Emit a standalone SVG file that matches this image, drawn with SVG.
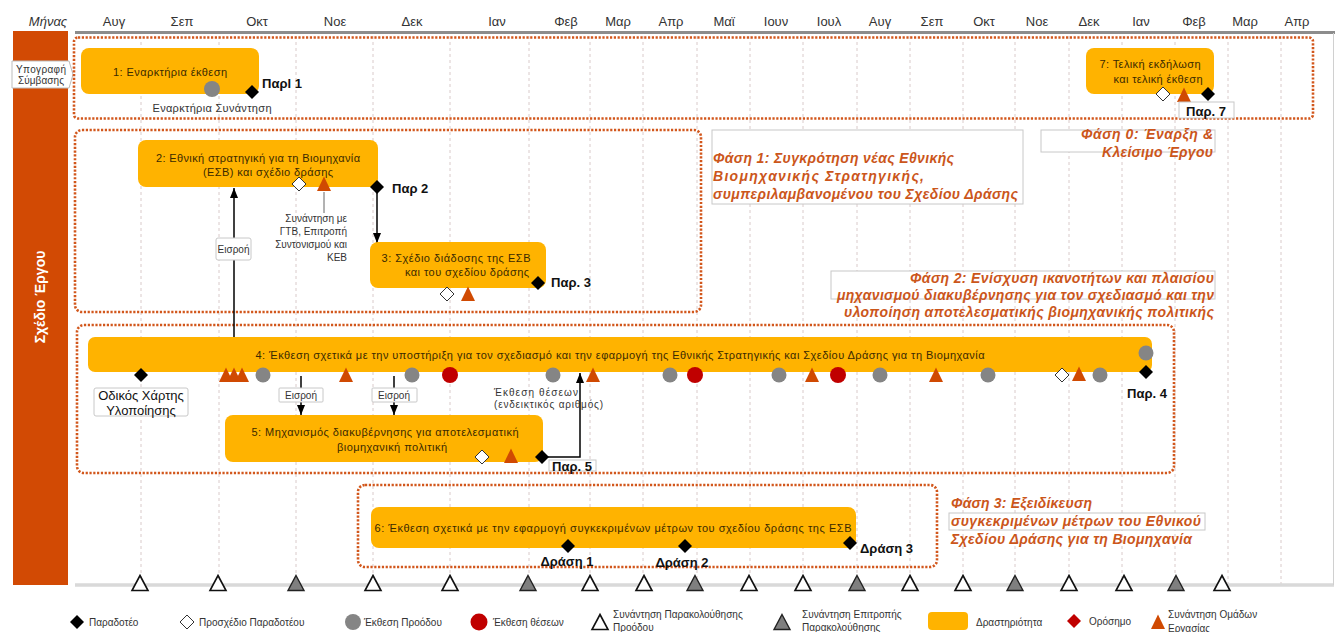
<svg xmlns="http://www.w3.org/2000/svg" width="1338" height="632" viewBox="0 0 1338 632">
<defs>
<style>
text{font-family:"Liberation Sans",Arial,sans-serif;dominant-baseline:central;fill:#2b2b2b}
.m{font-size:13px;text-anchor:middle;fill:#333}
.t{font-size:11px;text-anchor:middle;fill:#3b2a00}
.task{fill:#FFB300}
.ph{fill:none;stroke:#D2571C;stroke-width:2.6;stroke-dasharray:2.2 1.6}
.pl{font-size:14px;font-weight:bold;font-style:italic;fill:#CB561B}
.b{font-size:13px;font-weight:bold;fill:#111}
.s{font-size:10px;fill:#333}
.grid{stroke:#D9CACA;stroke-width:1;stroke-dasharray:3 3}
.bd{fill:#000}
.wd{fill:#fff;stroke:#333;stroke-width:1}
.gc{fill:#858585}
.rc{fill:#C00000}
.ot{fill:#D04A02}
.wt{fill:#fff;stroke:#111;stroke-width:1.6}
.gt{fill:#7f7f7f;stroke:#222;stroke-width:1.4}
.lb{fill:#fff;stroke:#C8C8C8;stroke-width:1}
.conn{stroke:#000;stroke-width:1.5;fill:none}
</style>
<marker id="ah" viewBox="0 0 10 8" refX="10" refY="4" markerUnits="userSpaceOnUse" markerWidth="10" markerHeight="8" orient="auto"><path d="M0,0 L10,4 L0,8 z" fill="#000"/></marker>
<path id="dm" d="M0,-7 L7,0 L0,7 L-7,0 Z"/>
<path id="tr" d="M0,-7.5 L7,7 L-7,7 Z"/>
<path id="mt" d="M0,-7.5 L8,7.5 L-8,7.5 Z"/>
</defs>
<rect width="1338" height="632" fill="#fff"/>

<g id="header">
<text x="48" y="21" class="m" font-style="italic">Μήνας</text>
<text x="114" y="21" class="m">Αυγ</text>
<text x="182" y="21" class="m">Σεπ</text>
<text x="257" y="21" class="m">Οκτ</text>
<text x="335" y="21" class="m">Νοε</text>
<text x="412" y="21" class="m">Δεκ</text>
<text x="497" y="21" class="m">Ιαν</text>
<text x="566" y="21" class="m">Φεβ</text>
<text x="618" y="21" class="m">Μαρ</text>
<text x="671" y="21" class="m">Απρ</text>
<text x="724" y="21" class="m">Μαϊ</text>
<text x="776" y="21" class="m">Ιουν</text>
<text x="829" y="21" class="m">Ιουλ</text>
<text x="880" y="21" class="m">Αυγ</text>
<text x="932" y="21" class="m">Σεπ</text>
<text x="984" y="21" class="m">Οκτ</text>
<text x="1037" y="21" class="m">Νοε</text>
<text x="1089" y="21" class="m">Δεκ</text>
<text x="1141" y="21" class="m">Ιαν</text>
<text x="1194" y="21" class="m">Φεβ</text>
<text x="1245" y="21" class="m">Μαρ</text>
<text x="1297" y="21" class="m">Απρ</text>
</g>

<g id="frame">
<g class="grid">
<line x1="141" y1="36" x2="141" y2="584"/><line x1="219" y1="36" x2="219" y2="584"/><line x1="296" y1="36" x2="296" y2="584"/><line x1="373" y1="36" x2="373" y2="584"/><line x1="450" y1="36" x2="450" y2="584"/><line x1="529" y1="36" x2="529" y2="584"/><line x1="590" y1="36" x2="590" y2="584"/><line x1="643" y1="36" x2="643" y2="584"/><line x1="697" y1="36" x2="697" y2="584"/><line x1="750" y1="36" x2="750" y2="584"/><line x1="803" y1="36" x2="803" y2="584"/><line x1="857" y1="36" x2="857" y2="584"/><line x1="910" y1="36" x2="910" y2="584"/><line x1="963" y1="36" x2="963" y2="584"/><line x1="1015" y1="36" x2="1015" y2="584"/><line x1="1069" y1="36" x2="1069" y2="584"/><line x1="1122" y1="36" x2="1122" y2="584"/><line x1="1175" y1="36" x2="1175" y2="584"/><line x1="1228" y1="36" x2="1228" y2="584"/><line x1="1281" y1="36" x2="1281" y2="584"/>
</g>
<line x1="75" y1="32.5" x2="1335" y2="32.5" stroke="#8C8C8C" stroke-width="3"/>
<line x1="75" y1="585" x2="1334" y2="585" stroke="#D9D9D9" stroke-width="3.5"/>
<line x1="1333.5" y1="33" x2="1333.5" y2="585" stroke="#D0D0D0" stroke-width="1"/>
<rect x="13" y="31" width="55" height="554" fill="#D24A04"/>
<text x="40" y="297" transform="rotate(-90 40 297)" font-size="14" font-weight="bold" text-anchor="middle" fill="#fff" style="fill:#fff">Σχέδιο Έργου</text>
<path d="M12,61 H69 L73,74.5 L69,88 H12 Z" fill="#fff" stroke="#BDBDBD" stroke-width="1"/>
<text x="41" y="69" class="s" font-size="9.5" text-anchor="middle" textLength="50">Υπογραφή</text>
<text x="41" y="80" class="s" font-size="9.5" text-anchor="middle" textLength="46">Σύμβασης</text>
</g>

<g id="phases">
<rect x="74" y="37.5" width="1239" height="81" rx="4" class="ph"/>
<rect x="75" y="130" width="626" height="182" rx="7" class="ph"/>
<rect x="77" y="325" width="1097" height="148" rx="7" class="ph"/>
<rect x="358" y="485" width="579" height="82" rx="7" class="ph"/>
</g>

<g id="phase-labels">
<rect x="1041" y="130" width="174" height="22" class="lb"/>
<text x="1213" y="134" class="pl" text-anchor="end" textLength="132">Φάση 0: Έναρξη &amp;</text>
<text x="1213" y="152" class="pl" text-anchor="end" textLength="111">Κλείσιμο Έργου</text>
<rect x="712" y="130" width="311" height="74" class="lb"/>
<text x="713" y="158" class="pl" textLength="241">Φάση 1: Συγκρότηση νέας Εθνικής</text>
<text x="713" y="176" class="pl" textLength="211">Βιομηχανικής Στρατηγικής,</text>
<text x="713" y="194" class="pl" textLength="305">συμπεριλαμβανομένου του Σχεδίου Δράσης</text>
<rect x="831" y="271" width="384" height="28" class="lb"/>
<text x="1214" y="278" class="pl" text-anchor="end" textLength="304">Φάση 2: Ενίσχυση ικανοτήτων και πλαισίου</text>
<text x="1214" y="295" class="pl" text-anchor="end" textLength="377">μηχανισμού διακυβέρνησης για τον σχεδιασμό και την</text>
<text x="1214" y="312" class="pl" text-anchor="end" textLength="370">υλοποίηση αποτελεσματικής βιομηχανικής πολιτικής</text>
<rect x="949" y="513" width="256" height="17" class="lb"/>
<text x="951" y="503" class="pl" textLength="141">Φάση 3: Εξειδίκευση</text>
<text x="951" y="521" class="pl" textLength="250">συγκεκριμένων μέτρων του Εθνικού</text>
<text x="951" y="539" class="pl" textLength="241">Σχεδίου Δράσης για τη Βιομηχανία</text>
</g>

<g id="connectors">
<line x1="234" y1="369" x2="234" y2="188" class="conn" marker-end="url(#ah)"/>
<line x1="377" y1="193" x2="377" y2="243" class="conn" marker-end="url(#ah)"/>
<line x1="301" y1="376" x2="301" y2="415" class="conn" marker-end="url(#ah)"/>
<line x1="394" y1="376" x2="394" y2="415" class="conn" marker-end="url(#ah)"/>
<path d="M548,457 H580 V373" class="conn" marker-end="url(#ah)"/>
<line x1="324" y1="192" x2="324" y2="213" stroke="#666" stroke-width="1"/>
</g>

<g id="task1">
<rect x="81" y="48" width="178" height="46" rx="8" class="task"/>
<text x="170" y="72" class="t" textLength="114">1: Εναρκτήρια έκθεση</text>
<circle cx="212" cy="89" r="8" class="gc"/>
<use href="#dm" x="252" y="92" class="bd"/>
<text x="262" y="83" class="b">Παρl 1</text>
<text x="212" y="108" class="t" font-size="11" textLength="119" style="fill:#333">Εναρκτήρια Συνάντηση</text>
</g>

<g id="task7">
<rect x="1086" y="48" width="128" height="46" rx="8" class="task"/>
<text x="1150" y="64" class="t" textLength="101">7: Τελική εκδήλωση</text>
<text x="1158" y="79" class="t" textLength="89">και τελική έκθεση</text>
<use href="#dm" x="1163" y="94" class="wd"/>
<use href="#tr" x="1184" y="95" class="ot"/>
<use href="#dm" x="1208" y="94" class="bd"/>
<rect x="1179" y="102" width="55" height="16" class="lb"/>
<text x="1186" y="111" class="b" font-size="12.5">Παρ. 7</text>
</g>

<g id="task2">
<rect x="138" y="140" width="240" height="47" rx="8" class="task"/>
<text x="258" y="158" class="t" textLength="204">2: Εθνική στρατηγική για τη Βιομηχανία</text>
<text x="268" y="172" class="t" textLength="130">(ΕΣΒ) και σχέδιο δράσης</text>
<use href="#dm" x="299" y="184" class="wd"/>
<use href="#tr" x="324" y="184" class="ot"/>
<use href="#dm" x="377" y="187" class="bd"/>
<text x="392" y="188" class="b">Παρ 2</text>
<text x="347" y="218" class="s" text-anchor="end">Συνάντηση με</text>
<text x="347" y="231" class="s" text-anchor="end">ΓΤΒ, Επιτροπή</text>
<text x="347" y="244" class="s" text-anchor="end">Συντονισμού και</text>
<text x="347" y="257" class="s" text-anchor="end">ΚΕΒ</text>
<rect x="216" y="238" width="35" height="22" rx="2" class="lb"/>
<text x="233.5" y="249" class="s" text-anchor="middle">Εισροή</text>
</g>

<g id="task3">
<rect x="370" y="242" width="176" height="46" rx="8" class="task"/>
<text x="456" y="258" class="t" textLength="149">3: Σχέδιο διάδοσης της ΕΣΒ</text>
<text x="467" y="272" class="t" textLength="124">και του σχεδίου δράσης</text>
<use href="#dm" x="538" y="283" class="bd"/>
<text x="551" y="282" class="b">Παρ. 3</text>
<use href="#dm" x="447" y="294" class="wd"/>
<use href="#tr" x="468" y="294" class="ot"/>
</g>

<g id="task4">
<rect x="88" y="337" width="1064" height="35" rx="7" class="task"/>
<text x="620" y="355" class="t" textLength="729">4: Έκθεση σχετικά με την υποστήριξη για τον σχεδιασμό και την εφαρμογή της Εθνικής Στρατηγικής και Σχεδίου Δράσης για τη Βιομηχανία</text>
<use href="#dm" x="141" y="375" class="bd"/>
<use href="#tr" x="226" y="375" class="ot"/>
<use href="#tr" x="234" y="375" class="ot"/>
<use href="#tr" x="242" y="375" class="ot"/>
<circle cx="263" cy="375" r="7.5" class="gc"/>
<use href="#tr" x="346" y="375" class="ot"/>
<circle cx="412" cy="375" r="7.5" class="gc"/>
<circle cx="450" cy="375" r="8" class="rc"/>
<circle cx="553" cy="375" r="7.5" class="gc"/>
<use href="#tr" x="593" y="375" class="ot"/>
<circle cx="670" cy="375" r="7.5" class="gc"/>
<circle cx="695" cy="375" r="8" class="rc"/>
<circle cx="779" cy="375" r="7.5" class="gc"/>
<use href="#tr" x="812" y="375" class="ot"/>
<circle cx="838" cy="375" r="8" class="rc"/>
<circle cx="880" cy="375" r="7.5" class="gc"/>
<use href="#tr" x="936" y="375" class="ot"/>
<circle cx="988" cy="375" r="7.5" class="gc"/>
<use href="#dm" x="1062" y="375" class="wd"/>
<use href="#tr" x="1079" y="374" class="ot"/>
<circle cx="1100" cy="375" r="7.5" class="gc"/>
<circle cx="1146" cy="353" r="7.5" class="gc"/>
<use href="#dm" x="1146" y="372" class="bd"/>
<text x="1127" y="393" class="b">Παρ. 4</text>
<rect x="94" y="388" width="94" height="28" rx="2" class="lb"/>
<text x="141" y="395" class="m" style="fill:#111">Οδικός Χάρτης</text>
<text x="141" y="410" class="m" style="fill:#111">Υλοποίησης</text>
<rect x="279" y="388" width="44" height="14" rx="1" class="lb"/>
<text x="301" y="395" class="s" text-anchor="middle">Εισροή</text>
<rect x="372" y="388" width="45" height="14" rx="1" class="lb"/>
<text x="394" y="395" class="s" text-anchor="middle">Εισροή</text>
<text x="494" y="392" class="s" font-size="10.5" textLength="84">Έκθεση θέσεων</text>
<text x="494" y="404" class="s" font-size="10.5" textLength="109">(ενδεικτικός αριθμός)</text>
</g>

<g id="task5">
<rect x="225" y="415" width="318" height="47" rx="8" class="task"/>
<text x="385" y="432" class="t" textLength="267">5: Μηχανισμός διακυβέρνησης για αποτελεσματική</text>
<text x="392" y="447" class="t" textLength="110">βιομηχανική πολιτική</text>
<use href="#dm" x="482" y="457" class="wd"/>
<use href="#tr" x="511" y="456" class="ot"/>
<use href="#dm" x="542" y="457" class="bd"/>
<rect x="549" y="460" width="47" height="11" class="lb"/>
<text x="552" y="466" class="b">Παρ. 5</text>
</g>

<g id="task6">
<rect x="371" y="507" width="485" height="41" rx="8" class="task"/>
<text x="613" y="528" class="t" textLength="477">6: Έκθεση σχετικά με την εφαρμογή συγκεκριμένων μέτρων του σχεδίου δράσης της ΕΣΒ</text>
<use href="#dm" x="568" y="546" class="bd"/>
<use href="#dm" x="685" y="546" class="bd"/>
<use href="#dm" x="850" y="543" class="bd"/>
<text x="567" y="561" class="b" text-anchor="middle">Δράση 1</text>
<text x="682" y="562" class="b" text-anchor="middle">Δράση 2</text>
<text x="860" y="548" class="b">Δράση 3</text>
</g>

<g id="meetings">
<use href="#mt" x="140" y="583" class="wt"/>
<use href="#mt" x="218" y="583" class="wt"/>
<use href="#mt" x="296" y="583" class="gt"/>
<use href="#mt" x="373" y="583" class="wt"/>
<use href="#mt" x="450" y="583" class="wt"/>
<use href="#mt" x="528" y="583" class="gt"/>
<use href="#mt" x="590" y="583" class="wt"/>
<use href="#mt" x="644" y="583" class="wt"/>
<use href="#mt" x="695" y="583" class="gt"/>
<use href="#mt" x="749" y="583" class="wt"/>
<use href="#mt" x="803" y="583" class="wt"/>
<use href="#mt" x="857" y="583" class="gt"/>
<use href="#mt" x="910" y="583" class="wt"/>
<use href="#mt" x="963" y="583" class="wt"/>
<use href="#mt" x="1015" y="583" class="gt"/>
<use href="#mt" x="1069" y="583" class="wt"/>
<use href="#mt" x="1124" y="583" class="wt"/>
<use href="#mt" x="1176" y="583" class="gt"/>
<use href="#mt" x="1222" y="583" class="wt"/>
</g>

<g id="legend">
<use href="#dm" x="77" y="622" class="bd"/>
<text x="89" y="622" class="s">Παραδοτέο</text>
<use href="#dm" x="187" y="622" class="wd"/>
<text x="199" y="622" class="s">Προσχέδιο Παραδοτέου</text>
<circle cx="353" cy="622" r="8" class="gc"/>
<text x="364" y="622" class="s">Έκθεση Προόδου</text>
<circle cx="479" cy="622" r="8.5" class="rc"/>
<text x="493" y="622" class="s" font-size="10.5">Έκθεση θέσεων</text>
<use href="#mt" x="600" y="622" class="wt"/>
<text x="613" y="614" class="s">Συνάντηση Παρακολούθησης</text>
<text x="613" y="627" class="s">Προόδου</text>
<use href="#mt" x="782" y="622" class="gt"/>
<text x="802" y="614" class="s">Συνάντηση Επιτροπής</text>
<text x="802" y="627" class="s">Παρακολούθησης</text>
<rect x="928" y="612" width="40" height="18" rx="4" class="task"/>
<text x="976" y="622" class="s">Δραστηριότητα</text>
<use href="#dm" x="1074" y="621" class="rc"/>
<text x="1089" y="621" class="s">Ορόσημο</text>
<use href="#tr" x="1158" y="622" class="ot"/>
<text x="1168" y="614" class="s">Συνάντηση Ομάδων</text>
<text x="1168" y="628" class="s">Εργασίας</text>
</g>
</svg>
